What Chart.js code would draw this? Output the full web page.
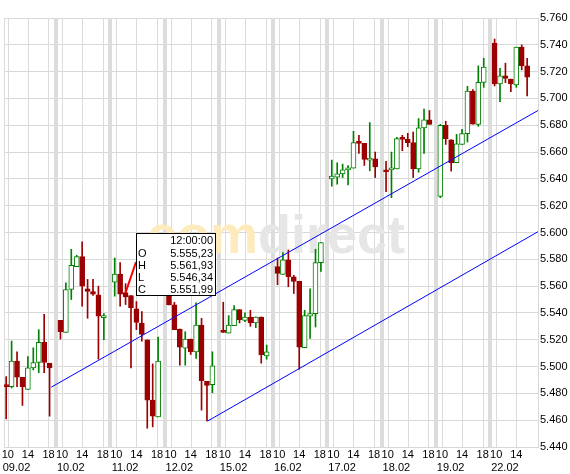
<!DOCTYPE html>
<html><head><meta charset="utf-8">
<script src="https://cdn.jsdelivr.net/npm/chart.js@4"></script>
<style>html,body{margin:0;padding:0;background:#fff}#w{width:570px;height:474px}</style>
</head><body><div id="w"><canvas id="c"></canvas></div>
<script>
const dayLabels=['09.02','10.02','11.02','12.02','15.02','16.02','17.02','18.02','19.02','22.02'];
const candlesPerDay=[9,9,9,9,9,9,9,9,9,7];
const hourTicks=[{s:0.3,t:'10'},{s:4,t:'14'},{s:7.8,t:'18'}];
const yTicks={min:5440,max:5760,step:20};
const opens=[5486,5485,5504,5492,5483,5499,5503,5518,5502.5, 5534.5,5525.5,5557.5,5574.5,5582,5558,5556,5553.5,5536.5,
5563,5569,5555.2,5553,5543,5532.5,5520,5475,5462.5, 5552.5,5546,5528,5513.7,5520.5,5511,5531,5489,5486.5,
5526,5525,5530.5,5542.5,5534.5,5537,5532.5,5537,5508, 5574.5,5568.7,5579.7,5567,5563.5,5514,5537.5,5539.5,5577.5,
5640,5641.2,5643.7,5646.7,5648,5667,5666.5,5654,5655, 5645.7,5646.7,5647.5,5670,5669.5,5667,5647.5,5678,5684,
5627,5680,5669.2,5652,5665.7,5673.7,5705.5,5680.7,5712, 5741.3,5710.8,5716.8,5714.5,5710,5738.3,5724.3];
const highs=[5492.5,5519,5511,5492,5507.5,5514,5527.5,5539,5502.5, 5534.5,5562.5,5587.5,5583,5593,5565,5565,5560,5539.5,
5581,5577.5,5561.9,5553,5548.5,5541,5520,5502,5522, 5559,5548,5528,5526,5520.5,5547.5,5536,5489,5511,
5548,5538,5545.5,5542.5,5540,5542,5537,5537,5516, 5581,5585,5587,5568,5563.5,5542,5558,5587.5,5592.5,
5654,5652,5651,5650,5675.5,5672.5,5666.5,5682,5660, 5653,5660,5671,5672.5,5674,5675,5685,5692,5691,
5680.7,5683,5669.2,5673.2,5677,5709,5706.7,5724.3,5730, 5744.3,5722.5,5726.3,5714.5,5738.3,5740,5730];
const lows=[5461,5484,5485,5471,5483,5497.5,5495.5,5495.5,5463, 5520.5,5525.5,5550,5574.5,5545,5536,5553,5505.5,5520,
5552.5,5545,5546.3,5499,5527.5,5519,5454,5455,5462.5, 5546,5527.5,5501,5501,5509,5506,5467.5,5459.5,5480.5,
5525.5,5525,5530.5,5532.5,5533.5,5530,5529,5502.5,5505.5, 5561,5568.7,5559.5,5554.5,5498,5514,5521,5529.5,5571,
5634.5,5636,5641,5635.5,5648,5659,5650,5646,5641, 5630.5,5626,5647.5,5661,5664,5641,5645,5659,5680.7,
5626,5665.7,5645.8,5652,5665.7,5667.5,5680.8,5679.2,5708.3, 5709.3,5697.5,5711.8,5705,5708.3,5721.3,5701.8];
const closes=[5485,5504,5492,5485,5499,5503,5518,5503,5499, 5526,5557.5,5575.5,5582,5560,5556,5554,5537.5,5537.5,
5569,5554,5552.0,5544,5533,5524,5475,5463,5504, 5546,5527.5,5514.5,5520.5,5511,5531,5489.5,5486,5500.5,
5525.5,5531,5542.5,5535,5537,5532.5,5537,5508.7,5511, 5569.5,5579.7,5567,5563.5,5514.5,5538,5539.5,5577.5,5592.5,
5642,5643.8,5646.8,5648.2,5667,5666.5,5654.5,5655,5649, 5645.3,5647.5,5670,5669.5,5667,5647.5,5678,5684,5680.7,
5680,5670,5652,5666.2,5673.7,5705.5,5680.8,5712,5723.3, 5710.8,5716.8,5715,5710.8,5738.3,5724.5,5715.8];
const upperChannel=[{x:8.3,y:5484.6},{x:98,y:5691}];
const lowerChannel=[{x:37.1,y:5459.3},{x:98,y:5600.6}];
const tip={idx:20,time:'12:00:00',O:'5.555,23',H:'5.561,93',L:'5.546,34',C:'5.551,99'};

const slots=[];candlesPerDay.forEach((n,d)=>{for(let s=0;s<n;s++)slots.push(d*10+s);});
const GREEN='#008000',RED='#9c0000';
const up=opens.map((o,i)=>closes[i]>=o);
const col=up.map(u=>u?GREEN:RED);
const FONT='"Liberation Sans", Arial, sans-serif';
const LABEL_MAX=96;

const bg={id:'bg',beforeDatasetsDraw(ch){
  const {ctx,chartArea:a,scales:{x,y}}=ch;ctx.save();
  ctx.fillStyle='#dcdcdc';
  for(let d=0;d<dayLabels.length-1;d++){const px=x.getPixelForValue(d*10+9.2);ctx.fillRect(Math.round(px)-2,a.top,4,a.bottom-a.top);}
  ctx.strokeStyle='#dcdcdc';ctx.lineWidth=1;
  for(let d=0;d<dayLabels.length;d++)hourTicks.forEach(h=>{const v=d*10+h.s;if(v>LABEL_MAX)return;const px=Math.round(x.getPixelForValue(v))+0.5;ctx.beginPath();ctx.moveTo(px,a.top);ctx.lineTo(px,a.bottom);ctx.stroke();});
  ctx.beginPath();ctx.moveTo(a.left+0.5,a.top);ctx.lineTo(a.left+0.5,a.bottom);ctx.stroke();
  ctx.font='bold 54px '+FONT;ctx.textBaseline='alphabetic';
  ctx.fillStyle='#fdebbe';ctx.fillText('com',147,253);
  const w=ctx.measureText('com').width;ctx.fillStyle='#e6e6e6';ctx.fillText('direct',147+w,253);
  ctx.fillStyle='#000';ctx.font='11px '+FONT;ctx.textAlign='center';ctx.textBaseline='middle';
  for(let d=0;d<dayLabels.length;d++){
    hourTicks.forEach(h=>{const v=d*10+h.s;if(v>LABEL_MAX)return;ctx.fillText(h.t,x.getPixelForValue(v),455);});
    ctx.fillText(dayLabels[d],x.getPixelForValue(d*10+1.9),468);
  }
  ctx.restore();}};
const tipPlug={id:'tip',afterDatasetsDraw(ch){
  const {ctx,scales:{x,y}}=ch;ctx.save();
  const i=tip.idx;const px=x.getPixelForValue(slots[i]),py=y.getPixelForValue(opens[i]);
  const bx=136,by=233,bw=79,bh=62;
  ctx.strokeStyle='#ff0000';ctx.lineWidth=2;ctx.beginPath();ctx.moveTo(px,py);ctx.lineTo(bx,by+29);ctx.stroke();
  ctx.fillStyle='#fff';ctx.fillRect(bx,by,bw,bh);ctx.strokeStyle='#000';ctx.lineWidth=1;ctx.strokeRect(bx+0.5,by+0.5,bw,bh);
  ctx.fillStyle='#000';ctx.font='11px '+FONT;ctx.textBaseline='middle';
  ctx.textAlign='right';ctx.fillText(tip.time,bx+bw-2,by+8);
  ['O','H','L','C'].forEach((k,j)=>{ctx.textAlign='left';ctx.fillText(k,bx+2,by+21+j*12);ctx.textAlign='right';ctx.fillText(tip[k],bx+bw-2,by+21+j*12);});
  ctx.restore();}};

new Chart(document.getElementById('c'),{
  type:'bar',
  data:{datasets:[
    {type:'line',data:upperChannel,borderColor:'#0000ff',borderWidth:1,pointRadius:0,order:0},
    {type:'line',data:lowerChannel,borderColor:'#0000ff',borderWidth:1,pointRadius:0,order:0},
    {data:slots.map((s,i)=>({x:s,y:[Math.min(opens[i],closes[i]),Math.max(opens[i],closes[i])]})),
     backgroundColor:up.map(u=>u?'#ffffff':RED),borderColor:col,borderWidth:1,barThickness:5,minBarLength:2,grouped:false,borderSkipped:false,order:1},
    {data:slots.map((s,i)=>({x:s,y:[lows[i],highs[i]]})),backgroundColor:col,barThickness:1,grouped:false,order:2}
  ]},
  options:{responsive:true,maintainAspectRatio:false,animation:false,
    layout:{padding:{left:4,top:18,bottom:27,right:0}},
    plugins:{legend:{display:false},tooltip:{enabled:false}},
    scales:{
      x:{type:'linear',min:-0.4,max:98,display:false,offset:false},
      y:{position:'right',min:yTicks.min,max:yTicks.max,
        ticks:{stepSize:yTicks.step,color:'#000',padding:2,font:{family:FONT,size:11},callback:v=>(v/1000).toFixed(3)},
        grid:{color:'#d8d8d8',drawTicks:false},border:{color:'#d8d8d8'},
        afterFit(s){s.width=32;}}
    }},
  plugins:[bg,tipPlug]
});
</script></body></html>
